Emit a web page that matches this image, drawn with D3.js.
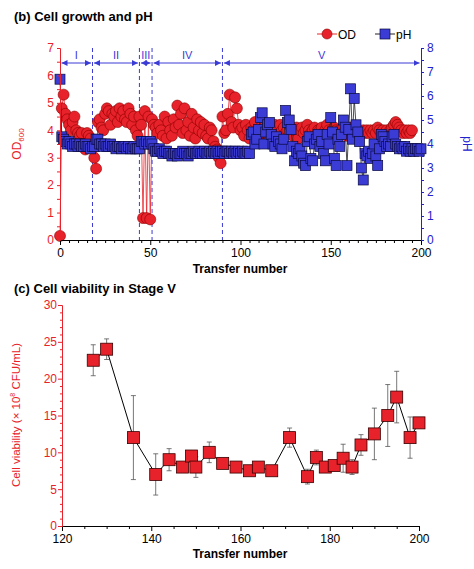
<!DOCTYPE html>
<html><head><meta charset="utf-8">
<script src="https://cdn.jsdelivr.net/npm/d3@7"></script>
<style>body{margin:0;background:#fff}text{font-family:Arial,"Liberation Sans",sans-serif}</style>
</head><body>
<script>
// OD600 per transfer 0..200
let od = [0.15,4.8,5.3,4.6,4.4,4.2,4.0,4.3,4.5,4.0,3.9,3.8,3.9,3.5,3.3,3.9,3.8,3.7,3.4,3.0,2.6,
  4.3,4.4,4.1,4.0,4.6,4.8,4.7,4.2,4.6,4.5,4.7,4.3,4.8,4.5,4.7,4.4,4.3,4.8,4.6,4.2,4.5,4.0,3.8,4.5,
  4.2,0.8,4.7,0.8,4.5,0.75,4.4,4.2,4.1,3.9,4.2,4.0,3.8,4.5,3.7,4.3,4.0,3.8,4.4,4.1,4.9,4.2,4.6,3.9,4.8,
  4.0,4.3,3.8,4.6,4.1,3.7,4.4,4.0,4.3,3.9,4.2,3.8,3.7,4.1,4.0,3.6,3.4,3.3,3.0,2.8,4.5,3.9,4.0,4.6,5.3,
  4.3,4.1,5.2,4.8,4.2,4.0,4.1,3.8,4.2,4.0,3.7,4.1,4.0,4.3,3.9,3.8,4.1,3.9,4.0,4.2,3.8,4.1,4.0,3.9,4.2,
  4.0,3.8,4.2,4.0,4.1,3.9,4.0,4.2,4.1,3.8,4.0,4.1,3.7,4.0,4.1,3.9,4.0,4.2,4.0,3.9,4.0,4.1,3.8,4.0,4.0,
  4.1,3.9,4.0,4.2,4.0,3.8,4.0,4.1,4.0,3.9,4.0,3.9,4.1,4.0,3.8,4.0,4.1,3.9,4.0,3.9,4.0,3.8,3.9,4.0,3.9,
  4.0,3.9,4.0,3.9,4.0,3.9,4.1,4.0,3.9,4.0,3.9,4.0,3.9,4.0,4.1,4.2,4.3,4.2,4.1,4.0,3.9,4.0,3.9,4.0,3.9,4.0];
// pH per transfer 0..200
let ph = [6.7,4.3,4.2,4.1,4.0,4.1,4.0,3.9,4.0,4.0,3.9,4.0,3.9,3.9,4.0,3.9,3.9,3.8,3.9,3.9,4.2,
  4.2,4.0,4.0,3.9,4.0,3.9,3.9,4.0,3.9,3.9,3.8,3.9,3.9,3.8,3.9,3.9,3.8,3.9,3.8,3.8,3.9,3.8,3.8,3.8,
  4.1,4.1,4.0,4.1,4.0,4.1,4.0,3.8,3.7,3.7,3.8,3.7,3.6,3.7,3.7,3.6,3.6,3.5,3.6,3.6,3.5,3.6,3.6,3.7,3.6,
  3.6,3.5,3.6,3.6,3.7,3.6,3.6,3.7,3.6,3.6,3.7,3.6,3.6,3.7,3.6,3.7,3.6,3.7,3.6,3.7,3.7,3.6,3.7,3.7,3.6,
  3.7,3.6,3.7,3.6,3.7,3.6,3.7,3.6,3.6,3.7,3.6,4.4,4.5,4.0,4.2,4.6,5.1,5.3,4.0,4.5,4.8,4.9,4.4,4.0,3.9,
  4.3,4.1,4.0,3.8,4.2,5.4,4.9,5.0,4.6,3.9,3.3,3.7,3.6,3.8,3.5,3.2,3.1,4.1,4.3,3.4,3.3,4.0,4.2,4.4,3.9,
  4.1,3.6,3.3,4.4,4.0,5.1,4.5,3.4,3.1,4.2,3.9,4.4,5.0,4.7,3.1,4.6,6.3,4.2,5.9,4.8,4.5,4.1,3.0,2.5,3.6,
  3.5,3.7,3.4,3.6,4.0,3.5,3.1,3.8,4.4,4.3,4.1,3.9,4.0,3.9,4.3,4.4,4.0,3.9,3.8,3.9,3.8,3.9,3.7,3.8,3.7,
  3.8,3.7,3.8,3.8,3.7,3.8];
let stageBounds = [0, 18, 44, 51, 90, 200];
let stageNames = ["I", "II", "III", "IV", "V"];

// viability in stage V
let vx = [127,130,136,141,144,147,149,150,153,156,159,162,164,167,171,175,177,179,181,183,185,187,190,193,195,198,200];
let vy = [22.5,24,12,7,9,8,9.5,8,10,8.5,8,7.5,8,7.5,12,6.7,9.3,8,8.2,9.2,8,11,12.5,15,17.5,12,14];
let ve = [2.1,1.4,5.7,2.8,1.5,0.5,0.3,1.4,1.4,0.3,0.3,0.3,0.3,0.3,1.3,1.0,1.0,0.3,0.3,1.9,1.0,1.4,3.5,4.2,3.5,2.8,0.3];

const RED = "#e8222a", BLUE = "#3b3bd6", AX_BLUE = "#2222cc";
const svg = d3.select("body").append("svg").attr("width", 474).attr("height", 569);

// ---------- panel b ----------
const x = d3.scaleLinear().domain([0, 200]).range([60, 421]);
const yOD = d3.scaleLinear().domain([0, 7]).range([240, 48]);
const yPH = d3.scaleLinear().domain([0, 8]).range([240, 48]);

svg.append("text").attr("x", 14).attr("y", 21).attr("font-size", 13).attr("font-weight", "bold").text("(b) Cell growth and pH");

// stage dividers
svg.selectAll(".div").data(stageBounds.slice(1, 5)).enter().append("line")
  .attr("x1", d => x(d)).attr("x2", d => x(d)).attr("y1", 48).attr("y2", 240)
  .attr("stroke", BLUE).attr("stroke-dasharray", "4,3").attr("stroke-width", 1);

const defs = svg.append("defs");
defs.append("marker").attr("id", "ah").attr("viewBox", "0 0 6 6").attr("refX", 6).attr("refY", 3)
  .attr("markerWidth", 6).attr("markerHeight", 6).attr("orient", "auto-start-reverse")
  .append("path").attr("d", "M0,0L6,3L0,6Z").attr("fill", BLUE);

stageNames.forEach((n, i) => {
  const a = x(stageBounds[i]) + 1.5, b = x(stageBounds[i + 1]) - 1.5;
  svg.append("line").attr("x1", a).attr("x2", b).attr("y1", 63).attr("y2", 63)
    .attr("stroke", BLUE).attr("stroke-width", 1)
    .attr("marker-start", "url(#ah)").attr("marker-end", "url(#ah)");
  svg.append("text").attr("x", (a + b) / 2).attr("y", 59).attr("text-anchor", "middle")
    .attr("font-size", 11).attr("fill", BLUE).text(n);
});

// OD series
svg.append("path").datum(od).attr("fill", "none").attr("stroke", RED).attr("stroke-width", 0.8)
  .attr("d", d3.line().x((d, i) => x(i)).y(d => yOD(d)));
svg.selectAll(".od").data(od).enter().append("circle")
  .attr("cx", (d, i) => x(i)).attr("cy", d => yOD(d)).attr("r", 5.5)
  .attr("fill", RED).attr("stroke", "#8a0000").attr("stroke-width", 0.6);

// pH series
svg.append("path").datum(ph).attr("fill", "none").attr("stroke", "#222").attr("stroke-width", 0.8)
  .attr("d", d3.line().x((d, i) => x(i)).y(d => yPH(d)));
svg.selectAll(".ph").data(ph).enter().append("rect")
  .attr("x", (d, i) => x(i) - 5).attr("y", d => yPH(d) - 5).attr("width", 10).attr("height", 10)
  .attr("fill", BLUE).attr("stroke", "#0a0a40").attr("stroke-width", 0.7);

// axes
const gx = svg.append("g").attr("transform", "translate(0,240)")
  .call(d3.axisBottom(x).tickValues(d3.range(0, 201, 5)).tickSize(3).tickFormat(d => d % 50 ? "" : d));
gx.selectAll("text").attr("font-size", 12).attr("dy", "0.9em");
gx.selectAll(".tick line").attr("y2", d => d % 50 ? 3 : 5);
svg.append("text").attr("x", 240).attr("y", 273).attr("text-anchor", "middle").attr("font-size", 12).attr("font-weight", "bold").text("Transfer number");

const gl = svg.append("g").attr("transform", "translate(60,0)")
  .call(d3.axisLeft(yOD).tickValues(d3.range(0, 7.01, 0.5)).tickSize(3).tickFormat(d => d % 1 ? "" : d));
gl.selectAll("path,line").attr("stroke", RED);
gl.selectAll("text").attr("fill", RED).attr("font-size", 12);
svg.append("text").attr("transform", "translate(21,144) rotate(-90)").attr("text-anchor", "middle")
  .attr("fill", RED).attr("font-size", 12)
  .html('OD<tspan font-size="8" dy="3">600</tspan>');

const gr = svg.append("g").attr("transform", "translate(421,0)")
  .call(d3.axisRight(yPH).tickValues(d3.range(0, 8.01, 0.5)).tickSize(3).tickFormat(d => d % 1 ? "" : d));
gr.selectAll("path,line").attr("stroke", AX_BLUE);
gr.selectAll("text").attr("fill", AX_BLUE).attr("font-size", 12);
svg.append("text").attr("transform", "translate(463,144) rotate(90)").attr("text-anchor", "middle")
  .attr("fill", AX_BLUE).attr("font-size", 12).text("pH");

// legend
const lg = svg.append("g").attr("transform", "translate(317,34)");
lg.append("line").attr("x1", 0).attr("x2", 20).attr("stroke", RED);
lg.append("circle").attr("cx", 10).attr("r", 5).attr("fill", RED).attr("stroke", "#8a0000").attr("stroke-width", 0.6);
lg.append("text").attr("x", 21).attr("y", 4.5).attr("font-size", 12).text("OD");
lg.append("line").attr("x1", 58).attr("x2", 78).attr("stroke", "#222");
lg.append("rect").attr("x", 63).attr("y", -5).attr("width", 10).attr("height", 10).attr("fill", BLUE).attr("stroke", "#0a0a40").attr("stroke-width", 0.7);
lg.append("text").attr("x", 79).attr("y", 4.5).attr("font-size", 12).text("pH");

// ---------- panel c ----------
const x2 = d3.scaleLinear().domain([120, 200]).range([62, 419]);
const y2 = d3.scaleLinear().domain([0, 30]).range([526, 305]);
svg.append("text").attr("x", 14).attr("y", 293).attr("font-size", 13).attr("font-weight", "bold").text("(c) Cell viability in Stage V");

const gx2 = svg.append("g").attr("transform", "translate(0,526)")
  .call(d3.axisBottom(x2).tickValues(d3.range(120, 201, 5)).tickSize(3).tickFormat(d => d % 20 ? "" : d));
gx2.selectAll("text").attr("font-size", 12).attr("dy", "0.9em");
gx2.selectAll(".tick line").attr("y2", d => d % 20 ? 3 : 5);
svg.append("text").attr("x", 240).attr("y", 558).attr("text-anchor", "middle").attr("font-size", 12).attr("font-weight", "bold").text("Transfer number");

const gl2 = svg.append("g").attr("transform", "translate(62,0)")
  .call(d3.axisLeft(y2).tickValues(d3.range(0, 30.01, 1)).tickSize(2).tickFormat(d => d % 5 ? "" : d));
gl2.selectAll("path,line").attr("stroke", RED);
gl2.selectAll(".tick line").attr("x2", d => d % 5 ? -2 : -4);
gl2.selectAll("text").attr("fill", RED).attr("font-size", 12);
svg.append("text").attr("transform", "translate(20,415) rotate(-90)").attr("text-anchor", "middle")
  .attr("fill", RED).attr("font-size", 11.5)
  .html('Cell viability (× 10<tspan font-size="7" dy="-5">8</tspan><tspan dy="5"> CFU/mL)</tspan>');

const vIdx = d3.range(vx.length);
svg.selectAll(".eb").data(vIdx).enter().append("line")
  .attr("x1", i => x2(vx[i])).attr("x2", i => x2(vx[i]))
  .attr("y1", i => y2(vy[i] - ve[i])).attr("y2", i => y2(vy[i] + ve[i]))
  .attr("stroke", "#555").attr("stroke-width", 0.8);
[-1, 1].forEach((s, k) => {
  svg.selectAll(".cap" + k).data(vIdx).enter().append("line")
    .attr("x1", i => x2(vx[i]) - 2.5).attr("x2", i => x2(vx[i]) + 2.5)
    .attr("y1", i => y2(vy[i] + s * ve[i]))
    .attr("y2", i => y2(vy[i] + s * ve[i]))
    .attr("stroke", "#555").attr("stroke-width", 0.8);
});
svg.append("path").datum(vIdx).attr("fill", "none").attr("stroke", "#000").attr("stroke-width", 1)
  .attr("d", d3.line().x(i => x2(vx[i])).y(i => y2(vy[i])));
svg.selectAll(".vp").data(vIdx).enter().append("rect")
  .attr("x", i => x2(vx[i]) - 6).attr("y", i => y2(vy[i]) - 6).attr("width", 12).attr("height", 12)
  .attr("fill", RED).attr("stroke", "#3a0000").attr("stroke-width", 0.8);
</script>
</body></html>
